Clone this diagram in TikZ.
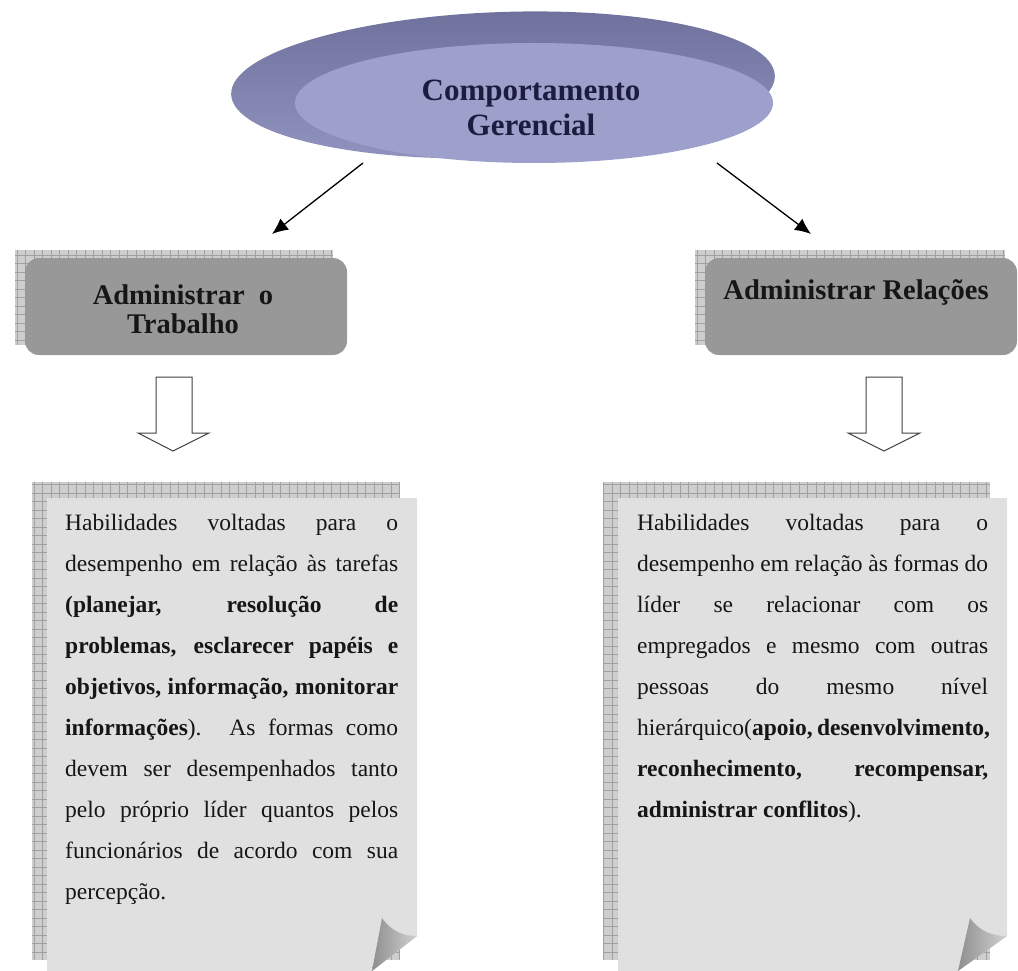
\documentclass[tikz,border=0pt]{standalone}
\usepackage{fontspec}
\setmainfont{Liberation Serif}
\usetikzlibrary{shapes.geometric,arrows.meta}
\definecolor{disktop}{RGB}{158,160,204}
\definecolor{diskdark}{RGB}{112,114,158}
\definecolor{diskmid}{RGB}{146,148,192}
\definecolor{boxgray}{RGB}{152,152,152}
\definecolor{pagegray}{RGB}{224,224,224}
\definecolor{gridfill}{RGB}{206,206,206}
\definecolor{gridline}{RGB}{160,160,160}
\definecolor{flapgray}{RGB}{178,178,178}
\definecolor{titlecol}{RGB}{28,28,62}
\definecolor{txt}{RGB}{22,22,22}
\newlength\pagetw
\newcommand\jl[1]{\leavevmode\hbox to \pagetw{\spaceskip=0pt\xspaceskip=0pt #1}}
\newcommand\gridrect[4]{%
  \fill[gridfill] (#1,#2) rectangle (#3,#4);
  \begin{scope}
    \clip (#1,#2) rectangle (#3,#4);
    \draw[gridline, line width=0.6pt, xstep=8.5pt, ystep=8.5pt] (#1,#2) grid (#3,#4);
  \end{scope}}
\begin{document}
\begin{tikzpicture}[x=1pt,y=-1pt,
  conn/.style={line width=1.3pt, -{Latex[length=16pt,width=14pt]}},
  hdrbox/.style={fill=boxgray, rounded corners=14pt, draw=none, inner sep=0pt},
  hdrtext/.style={font=\bfseries\fontsize{28.5}{29}\selectfont, text=txt, align=center, inner sep=0pt},
  pagetext/.style={font=\fontsize{23.5}{41}\selectfont, text=txt, align=justify, inner sep=0pt, anchor=north west},
  blockarrow/.style={fill=white, draw=black!75, line width=1pt, line join=miter}]
\useasboundingbox (0,0) rectangle (1018,971);
\fill[white] (0,0) rectangle (1018,971);

% ---- disk (Comportamento Gerencial)
\begin{scope}
  \clip (0,12) rectangle (1018,200);
  \shade[top color=diskdark, bottom color=diskmid, rotate around={2:(503,85)}] (503,85) ellipse [x radius=272, y radius=73];
\end{scope}
\node[ellipse, fill=disktop, minimum width=478pt, minimum height=120pt, inner sep=0pt] (disk) at (534,103) {};
\node[font=\bfseries\fontsize{31}{35}\selectfont, text=titlecol, align=center, inner sep=0pt] (title) at (531,108) {Comportamento\\Gerencial};

% ---- connectors
\coordinate (aLs) at (363,163);
\coordinate (aLe) at (272,234);
\coordinate (aRs) at (717,163);
\coordinate (aRe) at (811,234);
\draw[conn] (aLs) -- (aLe);
\draw[conn] (aRs) -- (aRe);

% ---- header boxes
\gridrect{15}{250}{333}{345}
\node[hdrbox, minimum width=322pt, minimum height=97pt] (hl) at (186,306.5) {};
\node[hdrtext] (hlt) at (183,309) {Administrar\ \ o\\Trabalho};

\gridrect{695}{250}{1005}{345}
\node[hdrbox, minimum width=312pt, minimum height=97pt] (hr) at (861,306.5) {};
\node[hdrtext] (hrt) at (856,293) {Administrar Relações};

% ---- block arrows
\draw[blockarrow] (156,377) -- (192,377) -- (192,433) -- (209,433) -- (173,451) -- (138,433) -- (156,433) -- cycle;
\draw[blockarrow] (866,377) -- (902,377) -- (902,433) -- (920,433) -- (884,451) -- (848,433) -- (866,433) -- cycle;

% ---- left page
\gridrect{32}{482}{400}{960}
\fill[pagegray] (47,498) -- (417,498) -- (417,936) -- (372,971) -- (47,971) -- cycle;
\shade[left color=flapgray!80!black, right color=flapgray!60!white] (372,971) -- (382,918) .. controls (392,932) and (404,936) .. (417,936) -- cycle;
\node[pagetext, text width=340pt] (pl) at (65,514) {\setlength\pagetw{333pt}%
\jl{Habilidades voltadas para o}\\
\jl{desempenho em relação às tarefas}\\
\jl{\textbf{(planejar, resolução de}}\\
\jl{\textbf{problemas, esclarecer papéis e}}\\
\jl{\textbf{objetivos, informação, monitorar}}\\
\jl{\textbf{informações}). As formas como}\\
\jl{devem ser desempenhados tanto}\\
\jl{pelo próprio líder quantos pelos}\\
\jl{funcionários de acordo com sua}\\
percepção.};

% ---- right page
\gridrect{603}{482}{990}{960}
\fill[pagegray] (618,498) -- (1007,498) -- (1007,936) -- (958,971) -- (618,971) -- cycle;
\shade[left color=flapgray!80!black, right color=flapgray!60!white] (958,971) -- (970,918) .. controls (980,932) and (993,936) .. (1007,936) -- cycle;
\node[pagetext, text width=358pt] (pr) at (637,514) {\setlength\pagetw{351pt}%
\jl{Habilidades voltadas para o}\\
\jl{desempenho em relação às formas do}\\
\jl{líder se relacionar com os}\\
\jl{empregados e mesmo com outras}\\
\jl{pessoas do mesmo nível}\\
\jl{hierárquico(\textbf{apoio, desenvolvimento,}}\\
\jl{\textbf{reconhecimento, recompensar,}}\\
\textbf{administrar conflitos}).};
\end{tikzpicture}
\end{document}
